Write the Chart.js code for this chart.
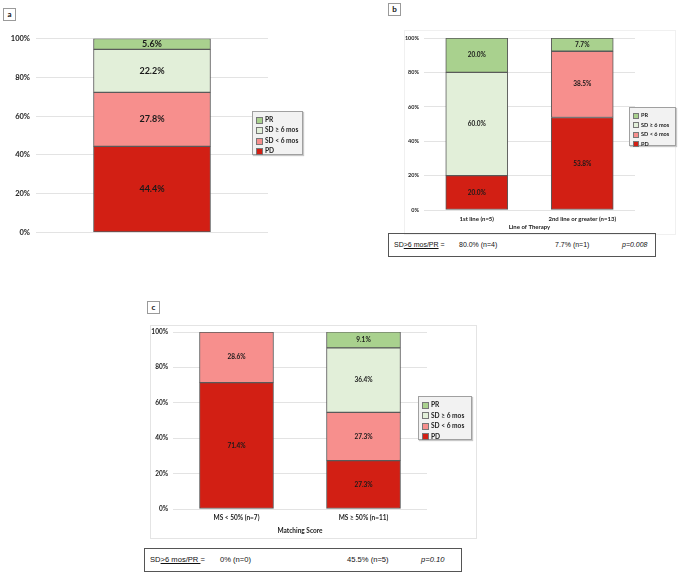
<!DOCTYPE html>
<html>
<head>
<meta charset="utf-8">
<script src="https://cdn.jsdelivr.net/npm/chart.js@4.4.1/dist/chart.umd.min.js"></script>
<style>
  body { margin: 0; background: #fff; font-family: Lato, "Liberation Sans", sans-serif; }
  #page { position: relative; width: 680px; height: 572px; overflow: hidden; }
  .tag { position: absolute; width: 11px; height: 11px; border: 1px solid #9a9a9a; font: bold 8px Lato, sans-serif; text-align: center; line-height: 11px; color: #111; background: #fff; }
  .frame { position: absolute; border: 1px solid #e4e4e4; }
  .legend { position: absolute; background: #f2f2f2; border: 1px solid #a0a0a0; box-shadow: 1px 1px 1px #c8c8c8; padding: 2px 3px; box-sizing: border-box; }
  .legend div { white-space: nowrap; color: #222; font-weight: bold; }
  .legend span { display: inline-block; border: 1px solid #777; margin-right: 2px; vertical-align: middle; }
  .foot { position: absolute; border: 1px solid #555; box-sizing: border-box; font-family: "Liberation Sans", Arial, sans-serif; color: #111; }
  .foot span { position: absolute; white-space: nowrap; }
  canvas { position: absolute; }
</style>
</head>
<body>
<div id="page">
  <div class="tag" style="left:3px;top:8px;">a</div>
  <div class="tag" style="left:388px;top:3px;">b</div>
  <div class="tag" style="left:147px;top:301px;">c</div>

  <div class="frame" style="left:404px;top:30px;width:270px;height:203px;border-color:#f0f0f0;"></div>
  <div class="frame" style="left:150px;top:325px;width:325px;height:212px;"></div>

  <div style="position:absolute;left:0;top:28px;width:275px;height:215px;"><canvas id="chartA"></canvas></div>
  <div style="position:absolute;left:380px;top:28px;width:300px;height:203px;"><canvas id="chartB"></canvas></div>
  <div style="position:absolute;left:150px;top:322px;width:280px;height:213px;"><canvas id="chartC"></canvas></div>

  <div class="legend" id="legA" style="left:252px;top:111px;width:51px;height:44px;font-size:6.6px;line-height:10.4px;"></div>
  <div class="legend" id="legB" style="left:629px;top:107px;width:47px;height:39px;font-size:5.6px;line-height:9.6px;"></div>
  <div class="legend" id="legC" style="left:418px;top:396px;width:54px;height:44px;font-size:6.6px;line-height:10.5px;"></div>

  <div class="foot" style="left:388px;top:233px;width:268px;height:24px;font-size:7px;">
    <span style="left:5px;top:7px;">SD<u>&gt;6 mos/PR</u> =</span>
    <span style="left:70px;top:7px;">80.0% (n=4)</span>
    <span style="left:166px;top:7px;">7.7% (n=1)</span>
    <span style="left:233px;top:7px;font-style:italic;">p=0.008</span>
  </div>
  <div class="foot" style="left:144px;top:548px;width:318px;height:24px;font-size:7.6px;">
    <span style="left:5px;top:6px;">SD<u>&gt;6 mos/PR </u>=</span>
    <span style="left:75px;top:6px;">0% (n=0)</span>
    <span style="left:202px;top:6px;">45.5% (n=5)</span>
    <span style="left:276px;top:6px;font-style:italic;">p=0.10</span>
  </div>
</div>

<script>
// series names and colours (bottom of the stack first)
var seriesNames = ['PD', 'SD < 6 mos', 'SD \u2265 6 mos', 'PR'];
var seriesColors = ['#d21f14', '#f78f8d', '#e2efd9', '#a9d18e'];

// panel a - all patients
var catsA = [''];
var pdA = [44.4];
var sdLowA = [27.8];
var sdHighA = [22.2];
var prA = [5.6];

// panel b - line of therapy
var catsB = ['1st line (n=5)', '2nd line or greater (n=13)'];
var pdB = [20.0, 53.8];
var sdLowB = [0, 38.5];
var sdHighB = [60.0, 0];
var prB = [20.0, 7.7];

// panel c - matching score
var catsC = ['MS < 50% (n=7)', 'MS \u2265 50% (n=11)'];
var pdC = [71.4, 27.3];
var sdLowC = [28.6, 27.3];
var sdHighC = [0, 36.4];
var prC = [0, 9.1];

var yTicks = [0, 20, 40, 60, 80, 100];

// writes the value into the middle of each segment
var segmentLabels = {
  id: 'segmentLabels',
  afterDatasetsDraw: function(chart, args, opts) {
    var ctx = chart.ctx;
    ctx.save();
    ctx.font = opts.font;
    ctx.fillStyle = '#1a1a1a';
    ctx.textAlign = 'center';
    ctx.textBaseline = 'middle';
    chart.data.datasets.forEach(function(ds, i) {
      var meta = chart.getDatasetMeta(i);
      meta.data.forEach(function(bar, j) {
        var v = ds.data[j];
        if (!v) return;
        ctx.fillText(v.toFixed(1) + '%', bar.x, (bar.y + bar.base) / 2);
      });
    });
    ctx.restore();
  }
};

function buildLegend(id, boxSize) {
  var el = document.getElementById(id);
  var html = '';
  for (var i = seriesNames.length - 1; i >= 0; i--) {
    html += '<div><span style="width:' + boxSize + 'px;height:' + boxSize + 'px;background:' + seriesColors[i] + '"></span>' + seriesNames[i] + '</div>';
  }
  el.innerHTML = html;
}

function makeChart(canvasId, cats, series, p) {
  var datasets = series.map(function(vals, i) {
    return {
      label: seriesNames[i],
      data: vals,
      backgroundColor: seriesColors[i],
      borderColor: '#5a5a5a',
      borderWidth: 1,
      borderSkipped: false,
      barThickness: p.barWidth
    };
  });
  return new Chart(document.getElementById(canvasId), {
    type: 'bar',
    data: { labels: cats, datasets: datasets },
    plugins: [segmentLabels],
    options: {
      responsive: true,
      maintainAspectRatio: false,
      animation: false,
      layout: { padding: { top: p.top, right: p.right, left: 0, bottom: 0 } },
      plugins: {
        legend: { display: false },
        tooltip: { enabled: false },
        segmentLabels: { font: p.labelFont }
      },
      scales: {
        x: {
          stacked: true,
          grid: { display: false, drawTicks: false },
          border: { display: false },
          ticks: { display: p.showX, color: '#222', font: { family: 'Lato', size: p.xSize, weight: 'bold' }, padding: p.xPad },
          title: { display: !!p.xTitle, text: p.xTitle, color: '#222', font: { family: 'Lato', size: p.xSize, weight: 'bold' }, padding: 0 },
          afterFit: function(s) { s.height = p.xHeight; }
        },
        y: {
          stacked: true,
          min: 0,
          max: 100,
          afterBuildTicks: function(s) { s.ticks = yTicks.map(function(v) { return { value: v }; }); },
          grid: { color: '#e3e3e3', lineWidth: 1, drawTicks: false },
          border: { display: false },
          ticks: {
            color: '#222',
            padding: p.tickPad,
            font: { family: 'Lato', size: p.ySize, weight: 'bold' },
            callback: function(v) { return v + '%'; }
          },
          afterFit: function(s) { s.width = p.yWidth; }
        }
      }
    }
  });
}

buildLegend('legA', 5);
buildLegend('legB', 4);
buildLegend('legC', 5);

makeChart('chartA', catsA, [pdA, sdLowA, sdHighA, prA], {
  barWidth: 117, top: 10, right: 7, yWidth: 36, tickPad: 6, ySize: 7.5, xSize: 7, xPad: 3,
  showX: false, xTitle: '', xHeight: 8, labelFont: 'bold 9px Lato'
});

makeChart('chartB', catsB, [pdB, sdLowB, sdHighB, prB], {
  barWidth: 62, top: 10, right: 45, yWidth: 44, tickPad: 5, ySize: 5.5, xSize: 6, xPad: 5,
  showX: true, xTitle: 'Line of Therapy', xHeight: 21, labelFont: 'bold 6.5px Lato'
});

makeChart('chartC', catsC, [pdC, sdLowC, sdHighC, prC], {
  barWidth: 74, top: 10, right: 3, yWidth: 23, tickPad: 5, ySize: 6.5, xSize: 6.5, xPad: 5,
  showX: true, xTitle: 'Matching Score', xHeight: 26, labelFont: 'bold 6.5px Lato'
});
</script>
</body>
</html>
